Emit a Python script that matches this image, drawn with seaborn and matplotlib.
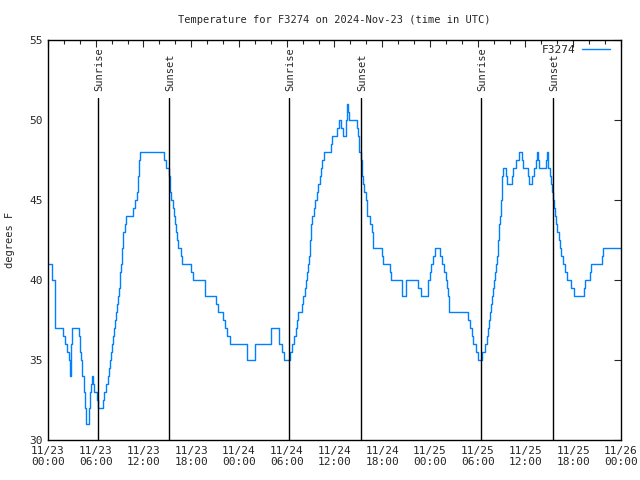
import matplotlib
matplotlib.use("Agg")
import matplotlib.pyplot as plt
import pandas as pd
import seaborn as sns

# hours since 2024-11-23 00:00 UTC, temperature (F) from there on
hours = [
    0.0, 0.46, 0.88, 1.84, 2.1, 2.35, 2.6, 2.76, 2.92, 2.97,
    3.9, 4.02, 4.1, 4.31, 4.48, 4.65, 4.82, 5.15, 5.24, 5.36,
    5.53, 5.65, 5.82, 6.12, 6.28, 6.87, 7.04, 7.33, 7.5, 7.67,
    7.79, 7.92, 8.04, 8.17, 8.29, 8.42, 8.54, 8.67, 8.75, 8.88,
    9.0, 9.09, 9.17, 9.26, 9.38, 9.68, 9.84, 10.64, 10.89, 11.14,
    11.35, 11.44, 11.6, 14.62, 14.83, 15.16, 15.33, 15.5, 15.67, 15.79,
    15.92, 16.04, 16.17, 16.34, 16.75, 16.88, 18.01, 18.26, 19.77, 21.07,
    21.36, 21.99, 22.28, 22.53, 22.83,
    24.96, 26.01, 27.98, 29.03, 29.4, 29.6, 30.45, 30.66, 30.95, 31.12,
    31.25, 31.37, 31.88, 32.0, 32.29, 32.46, 32.59, 32.71, 32.8, 32.88,
    33.01, 33.13, 33.43, 33.59, 33.76, 33.93, 34.14, 34.31, 34.47, 34.68,
    35.52, 35.73, 36.36, 36.57, 36.86, 37.11, 37.41, 37.53, 37.66, 37.82,
    38.87, 39.0, 39.12, 39.29, 39.41, 39.58, 39.75, 39.92, 40.09, 40.46,
    40.71, 40.84, 42.01, 42.14, 42.98, 43.14, 44.52, 44.94, 46.54, 46.83,
    47.71, 48.0, 48.17, 48.42, 48.59, 49.26, 49.47, 49.76, 49.97, 50.1,
    50.26, 50.43, 52.73, 53.03, 53.24, 53.36, 53.74, 54.08, 54.58, 54.91,
    55.12, 55.29, 55.46, 55.58, 55.71, 55.83, 55.96, 56.09, 56.21, 56.34,
    56.46, 56.59, 56.71, 56.84, 56.92, 57.01, 57.09, 57.22, 57.55, 57.72,
    58.31, 58.44, 58.77, 59.15, 59.56, 59.69, 60.32, 60.48, 60.82, 61.07,
    61.32, 61.45, 61.57, 61.74, 62.58, 62.7, 62.87, 63.04, 63.2, 63.37,
    63.5, 63.62, 63.75, 63.88, 64.0, 64.17, 64.3, 64.42, 64.67, 65.01,
    65.22, 65.68, 66.14, 67.35, 67.48, 68.11, 68.28, 69.62, 69.74, 72.0,
]
temps = [
    41, 40, 37, 36.5, 36, 35.5, 35, 34, 36, 37,
    36.5, 35.5, 35, 34, 33, 32, 31, 32, 33, 33.5,
    34, 33.5, 33, 32.5, 32, 32.5, 33, 33.5, 34, 34.5,
    35, 35.5, 36, 36.5, 37, 37.5, 38, 38.5, 39, 39.5,
    40, 40.5, 41, 42, 43, 43.5, 44, 44.5, 45, 45.5,
    46.5, 47.5, 48, 47.5, 47, 46.5, 45.5, 45, 44.5, 44,
    43.5, 43, 42.5, 42, 41.5, 41, 40.5, 40, 39, 38.5,
    38, 37.5, 37, 36.5, 36,
    35, 36, 37, 36, 35.5, 35, 35.5, 36, 36.5, 37,
    37.5, 38, 38.5, 39, 39.5, 40, 40.5, 41, 41.5, 42.5,
    43.5, 44, 44.5, 45, 45.5, 46, 46.5, 47, 47.5, 48,
    48.5, 49, 49.5, 50, 49.5, 49, 50, 51, 50.5, 50,
    49.5, 49, 48, 47.5, 46.5, 46, 45.5, 45, 44, 43.5,
    43, 42, 41.5, 41, 40.5, 40, 39, 40, 39.5, 39,
    40, 40.5, 41, 41.5, 42, 41.5, 41, 40.5, 40, 39.5,
    39, 38, 37.5, 37, 36.5, 36, 35.5, 35, 35.5, 36,
    36.5, 37, 37.5, 38, 38.5, 39, 39.5, 40, 40.5, 41,
    41.5, 42.5, 43.5, 44, 45, 45.5, 46.5, 47, 46.5, 46,
    46.5, 47, 47.5, 48, 47.5, 47, 46.5, 46, 46.5, 47,
    47.5, 48, 47.5, 47, 47.5, 48, 47, 46.5, 46, 45.5,
    45, 44.5, 44, 43.5, 43, 42.5, 42, 41.5, 41, 40.5,
    40, 39.5, 39, 39.5, 40, 40.5, 41, 41.5, 42, 42,
]

sun_hours = [6.32, 15.24, 30.3, 39.37, 54.45, 63.5]
sun_labels = ["Sunrise", "Sunset", "Sunrise", "Sunset", "Sunrise", "Sunset"]

tick_hours = [0, 6, 12, 18, 24, 30, 36, 42, 48, 54, 60, 66, 72]
tick_labels = [
    "11/23\n00:00", "11/23\n06:00", "11/23\n12:00", "11/23\n18:00",
    "11/24\n00:00", "11/24\n06:00", "11/24\n12:00", "11/24\n18:00",
    "11/25\n00:00", "11/25\n06:00", "11/25\n12:00", "11/25\n18:00",
    "11/26\n00:00",
]

df = pd.DataFrame({"hour": hours, "temp": temps})

sns.set_style("white")
plt.rcParams["font.family"] = ["DejaVu Sans Mono"]
plt.rcParams["font.size"] = 7.5

fig = plt.figure(figsize=(6.4, 4.8), dpi=100)
ax = fig.add_axes([0.075, 0.0833, 0.8953, 0.8334])

sns.lineplot(data=df, x="hour", y="temp", ax=ax, color="#0080ff",
             linewidth=1.0, drawstyle="steps-post", estimator=None,
             label="F3274")

for h, lab in zip(sun_hours, sun_labels):
    ax.plot([h, h], [30, 51.4], color="black", linewidth=1.0)
    ax.text(h + 0.15, 51.8, lab, rotation=90, ha="center", va="bottom",
            fontsize=7.5)

ax.set_xlim(0, 72)
ax.set_ylim(30, 55)
ax.set_xticks(tick_hours)
ax.set_xticklabels(tick_labels)
ax.set_xticks(range(0, 73, 2), minor=True)
ax.set_yticks([30, 35, 40, 45, 50, 55])
ax.tick_params(direction="in", top=True, right=True, length=5, width=0.8,
               labelsize=8, pad=4)
ax.tick_params(which="minor", direction="in", top=True, length=3, width=0.8)
for s in ax.spines.values():
    s.set_color("black")
    s.set_linewidth(1.0)

ax.set_xlabel("")
ax.set_ylabel("degrees F", fontsize=7.5, labelpad=10)
ax.set_title("Temperature for F3274 on 2024-Nov-23 (time in UTC)",
             fontsize=7.5, pad=12)

ax.legend(loc="upper right", bbox_to_anchor=(0.984, 0.994), frameon=False,
          fontsize=8, handlelength=2.5, markerfirst=False, borderaxespad=0.0,
          handletextpad=0.6, borderpad=0.2)

fig.savefig("out.png", dpi=100)
